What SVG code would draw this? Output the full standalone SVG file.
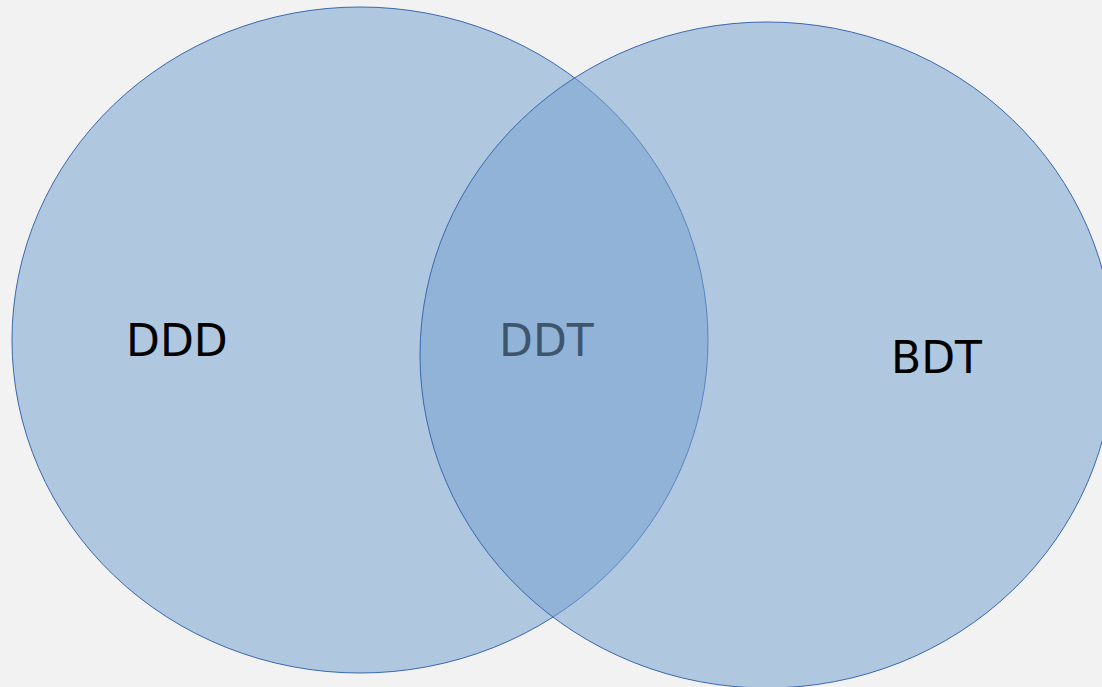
<svg xmlns="http://www.w3.org/2000/svg" width="1102" height="687" viewBox="0 0 1102 687">
  <style>
    .set { fill: rgb(117,161,208); fill-opacity: 0.53; stroke: #3a68b0; stroke-width: 1; }
    .label { font-family: "DejaVu Sans", sans-serif; font-size: 44px; fill: #000; }
  </style>
  <rect width="1102" height="687" fill="#f2f2f2"/>
  <g id="set-ddd">
    <ellipse class="set" cx="360" cy="340" rx="348" ry="333"/>
    <text class="label" x="126" y="356">DDD</text>
    <text class="label" x="499" y="356">DDT</text>
  </g>
  <g id="set-bdt">
    <ellipse class="set" cx="767" cy="355" rx="347" ry="333"/>
    <text class="label" x="891" y="373">BDT</text>
  </g>
</svg>
